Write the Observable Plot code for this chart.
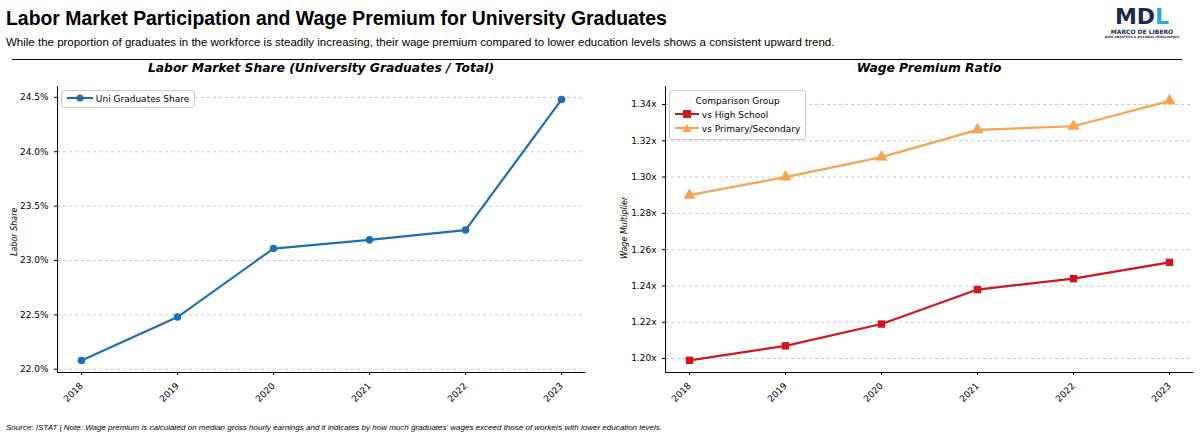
<!DOCTYPE html>
<html><head><meta charset="utf-8">
<script src="https://cdn.jsdelivr.net/npm/d3@7"></script>
<script src="https://cdn.jsdelivr.net/npm/@observablehq/plot@0.6"></script>
<style>
body{margin:0;width:1200px;height:439px;background:#fff;font-family:"DejaVu Sans",sans-serif;position:relative;overflow:hidden}
.a{position:absolute}
#t{left:6px;top:7px;font:bold 19.4px "Liberation Sans",Arial,sans-serif}
#s{left:6px;top:36px;font:11.5px "Liberation Sans",Arial,sans-serif}
#hr{left:12px;top:59px;width:1170px;border-top:1px solid #000}
.pt{font:bold italic 12.3px "DejaVu Sans";top:61px;text-align:center}
.leg{border:1px solid #ccc;border-radius:3px;background:#fff;font-size:9px;padding:3px 5px}
#cap{left:6px;top:423px;font:italic 8px "Liberation Sans",Arial,sans-serif}
.yl{font:italic 8px "DejaVu Sans";transform:rotate(-90deg);transform-origin:left top}
</style></head><body>
<div class="a" id="t">Labor Market Participation and Wage Premium for University Graduates</div>
<div class="a" id="s">While the proportion of graduates in the workforce is steadily increasing, their wage premium compared to lower education levels shows a consistent upward trend.</div>
<div class="a" style="left:1102px;top:6px;width:80px;text-align:center;font:bold 22px 'DejaVu Sans';color:#1b2a4a;line-height:22px">MD<span style="color:#2aa8e0">L</span><div style="font-size:6px;line-height:7px">MARCO DE LIBERO</div><div style="font-size:3px;line-height:4px">DATA ANALYTICS &amp; BUSINESS INTELLIGENCE</div></div>
<div class="a" id="hr"></div>
<div class="a pt" style="left:57px;width:528px">Labor Market Share (University Graduates / Total)</div>
<div class="a pt" style="left:665px;width:528px">Wage Premium Ratio</div>
<div class="a" id="p1" style="left:0;top:60px"></div>
<div class="a" id="p2" style="left:608px;top:60px"></div>
<div class="a yl" style="left:10px;top:256px">Labor Share</div>
<div class="a yl" style="left:620px;top:259px">Wage Multiplier</div>
<div class="a leg" style="left:61px;top:90px"><svg width="26" height="8"><line x1="0" y1="4" x2="26" y2="4" stroke="#1f6eb0" stroke-width="2"/><circle cx="13" cy="4" r="3.5" fill="#1f6eb0"/></svg> Uni Graduates Share</div>
<div class="a leg" style="left:669px;top:90px;line-height:14px"><div style="text-align:center">Comparison Group</div>
<div><svg width="24" height="8"><line x1="0" y1="4" x2="24" y2="4" stroke="#d0161b" stroke-width="2"/><rect x="8" y="0" width="8" height="8" fill="#d0161b"/></svg> vs High School</div>
<div><svg width="24" height="8"><line x1="0" y1="4" x2="24" y2="4" stroke="#f9a24f" stroke-width="2"/><path d="M12,0 L16.5,8 L7.5,8Z" fill="#f9a24f"/></svg> vs Primary/Secondary</div></div>
<div class="a" id="cap">Source: ISTAT | Note: Wage premium is calculated on median gross hourly earnings and it indicates by how much graduates' wages exceed those of workers with lower education levels.</div>
<script>
const years=[2018,2019,2020,2021,2022,2023];
const share=[22.08,22.48,23.11,23.19,23.28,24.48];
const vsHigh=[1.199,1.207,1.219,1.238,1.244,1.253];
const vsPrim=[1.290,1.300,1.311,1.326,1.328,1.342];
const shareTicks=[22.0,22.5,23.0,23.5,24.0,24.5];
const wageTicks=[1.20,1.22,1.24,1.26,1.28,1.30,1.32,1.34];

function panel(ydom,ticks,fmt,series){
  const marks=[
    Plot.gridY(ticks,{stroke:"#bbb",strokeDasharray:"3,3",strokeOpacity:0.8}),
    Plot.axisY(ticks,{tickFormat:fmt,fontSize:9,tickSize:3,label:null,fill:"#000"}),
    Plot.axisX(years,{tickFormat:d=>String(d),tickRotate:-45,fontSize:9,tickSize:3,label:null,textAnchor:"end"}),
    Plot.ruleX([2017.75],{stroke:"#000"}),
    Plot.ruleY([ydom[0]],{stroke:"#000"})
  ];
  for(const s of series){
    const d=years.map((y,i)=>({y,v:s.v[i]}));
    marks.push(Plot.line(d,{x:"y",y:"v",stroke:s.c,strokeWidth:2.2}));
    marks.push(Plot.dot(d,{x:"y",y:"v",fill:s.c,symbol:s.sym,r:s.r}));
  }
  return Plot.plot({width:592,height:355,marginLeft:57,marginRight:7,marginTop:26,marginBottom:43,
    x:{type:"linear",domain:[2017.75,2023.25]},y:{domain:ydom},style:{fontFamily:"DejaVu Sans",color:"#000"},marks});
}
document.getElementById("p1").append(panel([21.97,24.6],shareTicks,d=>d.toFixed(1)+"%",[{v:share,c:"#1f6eb0",sym:"circle",r:3.8}]));
document.getElementById("p2").append(panel([1.1923,1.3499],wageTicks,d=>d.toFixed(2)+"x",[{v:vsHigh,c:"#d0161b",sym:"square",r:4.2},{v:vsPrim,c:"#f9a24f",sym:"triangle",r:4.5}]));
</script></body></html>
